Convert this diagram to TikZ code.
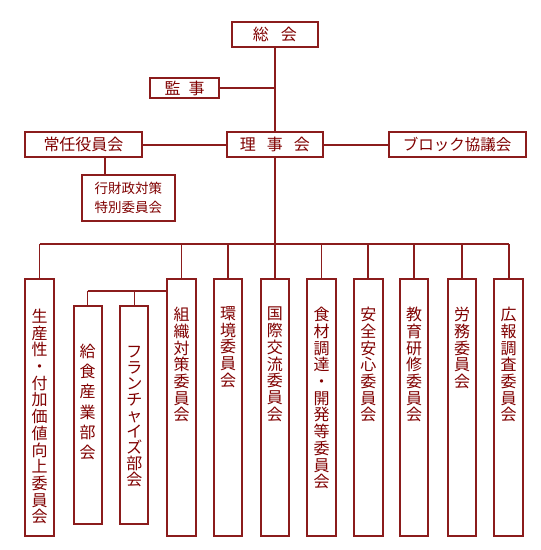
\documentclass[tikz,border=0pt]{standalone}
\usepackage{fontspec}
\newfontfamily\jp{Noto Sans CJK JP}
\definecolor{ln}{RGB}{139,28,28}
\definecolor{tx}{RGB}{128,0,0}
\begin{document}
\begin{tikzpicture}[x=1pt,y=-1pt,
  box/.style={draw=ln, line width=2pt, fill=white, inner sep=0pt, text=tx, font=\jp\fontsize{16}{17}\selectfont},
  bigbox/.style={box, minimum width=28.5pt, minimum height=256.7pt},
  smallbox/.style={box, minimum width=28.3pt, minimum height=218.5pt},
  conn/.style={draw=ln, line width=1.8pt},
  thinconn/.style={draw=ln, line width=1.4pt},
  vt/.style={text=tx, inner sep=0pt, anchor=north, align=center, font=\jp\fontsize{16}{16.7}\selectfont}]
\useasboundingbox[fill=white] (0,0) rectangle (541,550);

% top part
\node[box, minimum width=86.6pt, minimum height=24.5pt] (sokai) at (274.8,34.6) {総\hspace{12pt}会};
\node[box, minimum width=69.7pt, minimum height=20pt] (kanji) at (184.6,88) {監\hspace{8pt}事};
\node[box, minimum width=96.2pt, minimum height=24.4pt] (riji) at (274.8,144.6) {理\hspace{11pt}事\hspace{11pt}会};
\node[box, minimum width=116.6pt, minimum height=24.8pt] (jonin) at (83.5,144.6) {常任役員会};
\node[box, minimum width=136.6pt, minimum height=24.8pt, font=\jp\fontsize{15.5}{17}\selectfont] (block) at (457.2,144.6) {ブロック協議会};
\node[box, minimum width=93.2pt, minimum height=45.5pt, align=center, font=\jp\fontsize{13.5}{19.5}\selectfont] (gyozai) at (128.4,198) {行財政対策\\特別委員会};

\draw[conn] (sokai.south) -- (riji.north);
\draw[conn] (kanji.east) -- (kanji.east -| sokai.south);
\draw[conn] (riji.west) -- (jonin.east);
\draw[conn] (riji.east) -- (block.west);
\draw[conn] ([xshift=21.4pt]jonin.south) -- ([xshift=21.4pt]jonin.south |- gyozai.north);

% bus
\coordinate (busL) at (39.5,244);
\coordinate (busR) at (508.7,244);
\coordinate (sub) at (87.7,291);
\draw[conn] (busL) -- (busR);
\draw[conn] (riji.south) -- (riji.south |- busL);

% bottom boxes
\node[bigbox] (b1) at (39.5,407.7) {};
\node[bigbox] (b2) at (181.5,407.7) {};
\node[bigbox] (b3) at (228,407.7) {};
\node[bigbox] (b4) at (274.8,407.7) {};
\node[bigbox] (b5) at (321.5,407.7) {};
\node[bigbox] (b6) at (368.3,407.7) {};
\node[bigbox] (b7) at (414,407.7) {};
\node[bigbox] (b8) at (462.2,407.7) {};
\node[bigbox] (b9) at (508.7,407.7) {};
\node[smallbox] (s1) at (87.7,415.2) {};
\node[smallbox] (s2) at (134.3,415.2) {};

\foreach \b in {b1,b2,b3,b4,b5,b6,b7,b8,b9}{
  \draw[conn] (\b.north) -- (\b.north |- busL);
}
\draw[thinconn] (s1.north |- sub) -- (b2.west |- sub);
\draw[thinconn] (s1.north) -- (s1.north |- sub);
\draw[thinconn] (s2.north) -- (s2.north |- sub);

% vertical texts
\node[vt] (t1) at ([yshift=-30.5pt]b1.north) {生\\産\\性\\・\\付\\加\\価\\値\\向\\上\\委\\員\\会};
\node[vt] (t2) at ([yshift=-28.7pt]b2.north) {組\\織\\対\\策\\委\\員\\会};
\node[vt] (t3) at ([yshift=-28pt]b3.north) {環\\境\\委\\員\\会};
\node[vt] (t4) at ([yshift=-28.7pt]b4.north) {国\\際\\交\\流\\委\\員\\会};
\node[vt] (t5) at ([yshift=-28.7pt]b5.north) {食\\材\\調\\達\\・\\開\\発\\等\\委\\員\\会};
\node[vt] (t6) at ([yshift=-28.7pt]b6.north) {安\\全\\安\\心\\委\\員\\会};
\node[vt] (t7) at ([yshift=-28.7pt]b7.north) {教\\育\\研\\修\\委\\員\\会};
\node[vt] (t8) at ([yshift=-28.7pt]b8.north) {労\\務\\委\\員\\会};
\node[vt] (t9) at ([yshift=-28.7pt]b9.north) {広\\報\\調\\査\\委\\員\\会};
\node[vt, font=\jp\fontsize{16}{20.2}\selectfont] (u1) at ([yshift=-39pt]s1.north) {給\\食\\産\\業\\部\\会};
\node[vt, font=\jp\fontsize{16}{16}\selectfont] (u2) at ([yshift=-41pt]s2.north) {フ\\ラ\\ン\\チ\\ャ\\イ\\ズ\\部\\会};
\end{tikzpicture}
\end{document}
